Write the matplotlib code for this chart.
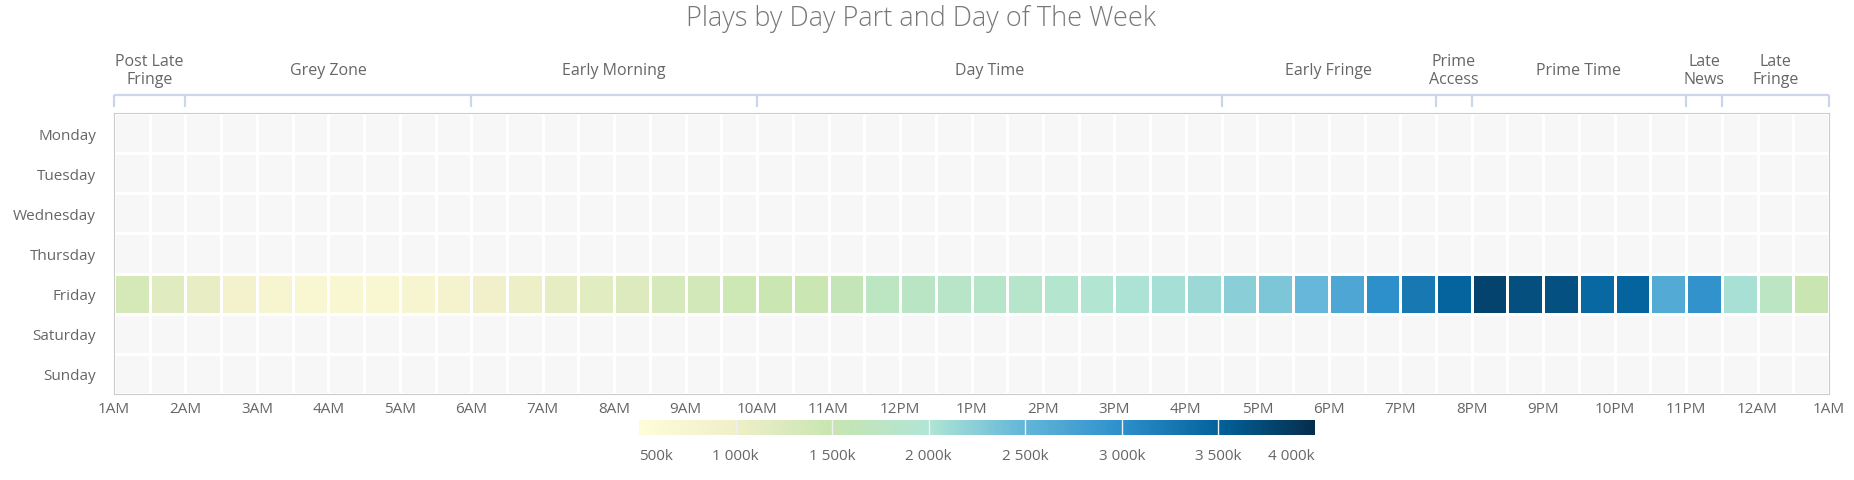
import numpy as np
import matplotlib
matplotlib.use('Agg')
import matplotlib.pyplot as plt
from matplotlib import transforms
from matplotlib.colors import LinearSegmentedColormap

plt.rcParams['font.family'] = ['Open Sans', 'DejaVu Sans']

TEXT = '#666666'
AXIS_BLUE = '#ccd6eb'

# ---- data ----
days = ['Monday', 'Tuesday', 'Wednesday', 'Thursday', 'Friday', 'Saturday', 'Sunday']
hour_labels = ['1AM', '2AM', '3AM', '4AM', '5AM', '6AM', '7AM', '8AM', '9AM', '10AM',
               '11AM', '12PM', '1PM', '2PM', '3PM', '4PM', '5PM', '6PM', '7PM', '8PM',
               '9PM', '10PM', '11PM', '12AM', '1AM']

# plays (thousands) per half hour, Friday only - other days have no data
friday_plays = [1340, 1190, 1090, 870, 790, 700, 700, 700, 770, 840,
                960, 1030, 1125, 1175, 1240, 1310, 1350, 1420, 1460, 1470,
                1590, 1740, 1780, 1820, 1840, 1880, 1910, 1950, 2020, 2060,
                2135, 2240, 2330, 2470, 2690, 2990, 3260, 3480, 3790, 3675,
                3665, 3435, 3480, 2660, 2960, 2045, 1750, 1480]

day_parts = ['Post Late\nFringe', 'Grey Zone', 'Early Morning', 'Day Time', 'Early Fringe',
             'Prime\nAccess', 'Prime Time', 'Late\nNews', 'Late\nFringe']
day_part_edges = [0, 2, 10, 18, 31, 37, 38, 44, 45, 48]   # half-hour slot index

cbar_ticks = [500, 1000, 1500, 2000, 2500, 3000, 3500, 4000]
cbar_labels = ['500k', '1 000k', '1 500k', '2 000k', '2 500k', '3 000k', '3 500k', '4 000k']

# ---- colour scale ----
stop_colors = ['#fffcd8', '#efefc8', '#c7e5b1', '#b0e5d5', '#62b5d9', '#2d90cb', '#03629b', '#052e4d']
cmap = LinearSegmentedColormap.from_list(
    'plays', list(zip(np.linspace(0, 1, len(stop_colors)), stop_colors)))
cmap.set_bad('#f7f7f7')

data = np.full((len(days), len(friday_plays)), np.nan)
data[days.index('Friday')] = friday_plays
data = np.ma.masked_invalid(data)

W, H = 1854, 481
fig = plt.figure(figsize=(W / 100, H / 100), dpi=100)

# heatmap area (pixels): x 114..1829, y 114..395
L, R, T, B = 114, 1829, 114, 395
ax = fig.add_axes([L / W, 1 - B / H, (R - L) / W, (B - T) / H])
mesh = ax.pcolormesh(np.arange(len(friday_plays) + 1), np.arange(len(days) + 1), data,
                     cmap=cmap, vmin=cbar_ticks[0], vmax=cbar_ticks[-1],
                     edgecolors='white', linewidth=2.0)
ax.set_xlim(0, len(friday_plays))
ax.set_ylim(len(days), 0)

for s in ax.spines.values():
    s.set_color('#cccccc')
    s.set_linewidth(0.8)

ax.set_xticks(np.arange(0, len(friday_plays) + 1, 2))
ax.set_xticklabels(hour_labels)
ax.set_yticks(np.arange(len(days)) + 0.5)
ax.set_yticklabels(days)
ax.tick_params(axis='x', length=0, pad=5, labelsize=11, labelcolor=TEXT)
ax.tick_params(axis='y', length=0, pad=13, labelsize=11, labelcolor=TEXT)

# day part bracket axis on top
plot_h = B - T
blend = transforms.blended_transform_factory(ax.transData, ax.transAxes)
line_y = 1 + (T - 96) / plot_h
tick_y = 1 + (T - 108) / plot_h
label_y = 1 + (T - 71) / plot_h
ax.plot([day_part_edges[0], day_part_edges[-1]], [line_y, line_y], color=AXIS_BLUE,
        lw=1.6, transform=blend, clip_on=False, solid_capstyle='butt')
for e in day_part_edges:
    ax.plot([e, e], [tick_y, line_y], color=AXIS_BLUE, lw=1.6, transform=blend,
            clip_on=False, solid_capstyle='butt')
for name, a, b in zip(day_parts, day_part_edges[:-1], day_part_edges[1:]):
    ax.text((a + b) / 2, label_y, name, transform=blend, ha='center', va='center',
            fontsize=11.5, color=TEXT, linespacing=1.12, clip_on=False)

# title
fig.text(921 / W, 1 - 19 / H, 'Plays by Day Part and Day of The Week', ha='center', va='center',
         fontsize=19.5, color='#777777', fontweight='light')

# colour axis
cax = fig.add_axes([639 / W, 1 - 436 / H, (1315 - 639) / W, 15 / H])
cb = fig.colorbar(mesh, cax=cax, orientation='horizontal')
cb.outline.set_visible(False)
cb.set_ticks(cbar_ticks)
cb.set_ticklabels(cbar_labels)
cax.tick_params(length=0, pad=9, labelsize=11, labelcolor=TEXT)
for t in cbar_ticks[1:-1]:
    cax.axvline(t, color='#f0f0f0', lw=1)
lbls = cax.get_xticklabels()
lbls[0].set_ha('left')
lbls[-1].set_ha('right')

fig.savefig('out.png', dpi=100)
